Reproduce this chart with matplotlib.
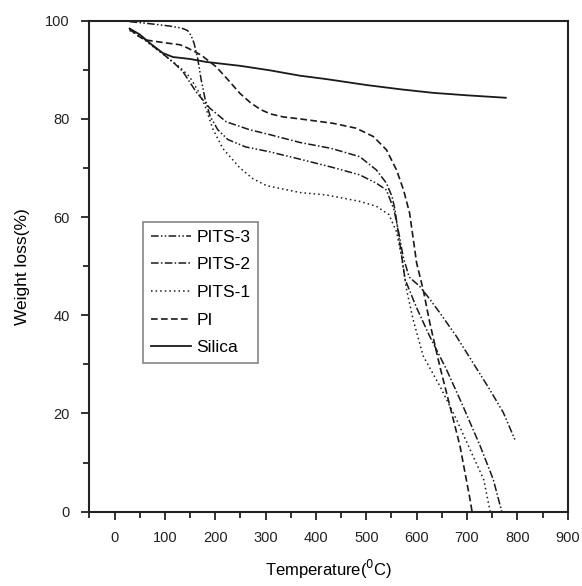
#!/usr/bin/python3
#
# TGA curves of PI / PITS hybrids and silica
#
import matplotlib
matplotlib.use('Agg')
import matplotlib.pyplot as plt
from matplotlib.ticker import MultipleLocator
#
plt.rcParams['font.family'] = ['Liberation Sans', 'DejaVu Sans']
#
# data
#
silica_t = [30, 50, 73, 96, 116, 150, 182, 250, 308, 368, 421, 500, 570, 633, 700, 777]
silica_w = [98.4, 97.2, 95.2, 93.4, 92.6, 92.2, 91.6, 90.8, 89.9, 88.8, 88.1, 86.9, 86.0, 85.3, 84.8, 84.3]
#
pi_t = [30, 45, 60, 80, 100, 130, 146, 172, 202, 225, 249, 270, 290, 310, 335, 368,
        434, 480, 514, 540, 560, 574, 586, 600, 613, 626, 646, 666, 686, 706, 710]
pi_w = [98.3, 97.0, 96.1, 95.8, 95.5, 95.1, 94.4, 93.0, 90.6, 88.0, 85.2, 83.3, 81.9, 81.0, 80.4, 80.0,
        79.1, 78.1, 76.4, 73.7, 69.6, 65.5, 60.8, 50.6, 45.2, 38.5, 29.6, 21.5, 13.4, 2.5, 0]
#
pits1_t = [30, 50, 73, 99, 116, 129, 149, 169, 182, 195, 215, 249, 275, 302, 368,
           421, 487, 520, 545, 560, 570, 580, 593, 613, 646, 679, 712, 733, 746]
pits1_w = [98.0, 96.9, 95.0, 93.0, 91.6, 90.6, 88.6, 85.2, 82.0, 78.0, 74.0, 70.0, 67.8, 66.4, 65.0,
           64.5, 63.2, 62.2, 60.5, 57.0, 52.0, 45.2, 39.1, 31.7, 25.6, 18.8, 11.3, 6.6, 0]
#
pits2_t = [30, 50, 73, 99, 120, 136, 162, 189, 222, 268, 308, 368, 430, 487,
           520, 540, 551, 557, 566, 577, 600, 626, 659, 692, 726, 752, 769]
pits2_w = [98.2, 97.1, 95.1, 93.0, 91.2, 89.6, 85.5, 82.2, 79.4, 77.8, 76.8, 75.2, 74.0, 72.3,
           69.6, 66.9, 64.2, 61.5, 55.0, 47.3, 41.5, 35.7, 29.0, 21.5, 13.4, 6.6, 0]
#
pits3_t = [30, 60, 86, 110, 133, 145, 152, 158, 165, 172, 180, 190, 205, 225, 260, 308, 368,
           430, 487, 520, 540, 555, 565, 573, 585, 606, 626, 646, 679, 712, 745, 772, 795]
pits3_w = [99.8, 99.5, 99.2, 98.9, 98.5, 98.0, 97.0, 95.4, 92.4, 88.0, 84.0, 80.5, 77.8, 75.8, 74.3, 73.3, 71.8,
           70.2, 68.6, 66.9, 65.5, 61.5, 56.5, 52.0, 47.8, 45.9, 43.3, 40.5, 35.7, 30.3, 24.9, 20.2, 14.7]
#
fig = plt.figure(figsize=(5.82, 5.86), dpi=100)
ax = fig.add_axes([0.1535, 0.1268, 0.822, 0.8379])
#
lc = '#1a1a1a'
ax.plot(pits3_t, pits3_w, color=lc, lw=1.1, ls=(0, (5, 1.5, 1, 1.5, 1, 1.5)), label='PITS-3')
ax.plot(pits2_t, pits2_w, color=lc, lw=1.1, ls=(0, (5, 1.5, 1, 1.5)), label='PITS-2')
ax.plot(pits1_t, pits1_w, color=lc, lw=1.1, ls=(0, (1, 2)), label='PITS-1')
ax.plot(pi_t, pi_w, color=lc, lw=1.2, ls=(0, (4, 2)), label='PI')
ax.plot(silica_t, silica_w, color=lc, lw=1.3, ls='-', label='Silica')
#
ax.set_xlim(-50, 900)
ax.set_ylim(0, 100)
ax.xaxis.set_major_locator(MultipleLocator(100))
ax.xaxis.set_minor_locator(MultipleLocator(50))
ax.yaxis.set_major_locator(MultipleLocator(20))
ax.yaxis.set_minor_locator(MultipleLocator(10))
ax.set_xticks(range(0, 901, 100))
#
for s in ax.spines.values():
    s.set_linewidth(1.5)
    s.set_color('#222222')
ax.tick_params(which='both', direction='out', top=False, right=False, width=1.3, colors='#222222')
ax.tick_params(which='major', length=6, labelsize=10.5, pad=8)
ax.tick_params(which='minor', length=4)
#
ax.set_xlabel('Temperature($^0$C)', fontsize=12, labelpad=9)
ax.set_ylabel('Weight loss(%)', fontsize=12.5, labelpad=11)
#
leg = ax.legend(loc='upper left', bbox_to_anchor=(0.113, 0.5906), borderaxespad=0,
                fontsize=12.5, frameon=True, fancybox=False, handlelength=2.3,
                handletextpad=0.3, labelspacing=0.72, borderpad=0.45)
leg.get_frame().set_edgecolor('#666666')
leg.get_frame().set_linewidth(1.2)
#
fig.savefig('out.png', dpi=100)
